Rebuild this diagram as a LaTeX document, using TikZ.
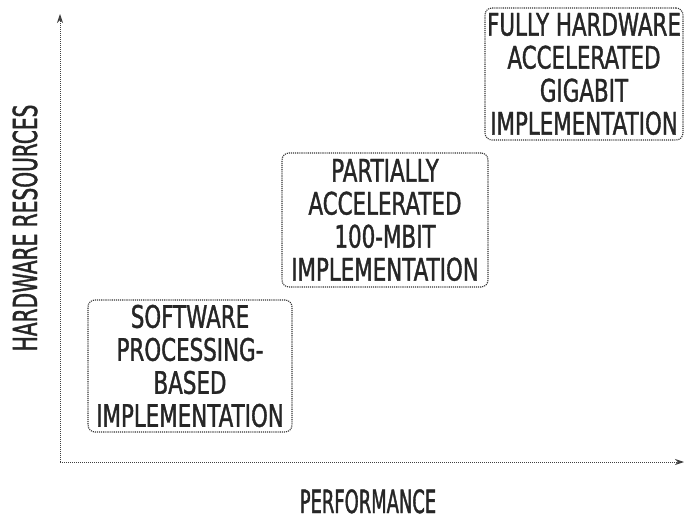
\documentclass[tikz,border=0pt]{standalone}
\usepackage{fontspec}
\newfontfamily\boxfont[FakeStretch=0.69,FakeBold=1.2]{DejaVu Sans}
\newfontfamily\yfont[FakeStretch=0.61,FakeBold=1.2]{DejaVu Sans}
\newfontfamily\xfont[FakeStretch=0.56,FakeBold=1.2]{DejaVu Sans}
\usetikzlibrary{arrows.meta}
\begin{document}
\begin{tikzpicture}[x=1pt,y=-1pt,
  stage/.style={draw=black!80, densely dotted, line width=1.1pt, rounded corners=7pt,
    inner sep=0pt, align=center, text=black!85,
    font=\boxfont\fontsize{31}{33}\selectfont},
  axis/.style={draw=black!75, densely dotted, line width=1pt,
    -{Stealth[length=9pt,width=6pt]}},
  axislabel/.style={text=black!85, inner sep=0pt}]
  \useasboundingbox (0,0) rectangle (685,521);

  % axes
  \coordinate (origin) at (60,462);
  \coordinate (ytip) at (60,14);
  \coordinate (xtip) at (684,462);
  \draw[axis] (origin) -- (ytip);
  \draw[axis] (origin) -- (xtip);

  % axis labels
  \node[axislabel, rotate=90, anchor=base, font=\yfont\fontsize{33}{35}\selectfont]
    (ylab) at (37,228) {HARDWARE RESOURCES};
  \node[axislabel, anchor=base, font=\xfont\fontsize{32}{34}\selectfont]
    (xlab) at (368,513) {PERFORMANCE};

  % implementation stages
  \node[stage, minimum width=204pt, minimum height=132pt] (sw) at (190,366)
    {SOFTWARE\\PROCESSING-\\BASED\\IMPLEMENTATION};
  \node[stage, minimum width=206pt, minimum height=134pt] (part) at (385,220)
    {PARTIALLY\\ACCELERATED\\100-MBIT\\IMPLEMENTATION};
  \node[stage, minimum width=198pt, minimum height=132pt] (full) at (584,74)
    {FULLY HARDWARE\\ACCELERATED\\GIGABIT\\IMPLEMENTATION};
\end{tikzpicture}
\end{document}
